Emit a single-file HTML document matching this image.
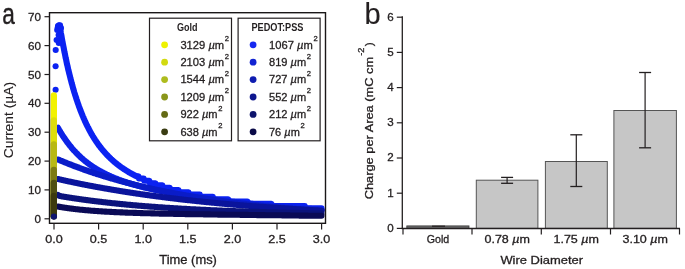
<!DOCTYPE html>
<html><head><meta charset="utf-8"><style>
html,body{margin:0;padding:0;background:#fff;width:685px;height:269px;overflow:hidden}
svg{display:block;filter:blur(0.35px)}
text{font-family:"Liberation Sans",sans-serif;stroke:#231f20;stroke-width:0.3px}
text.n{stroke:none}
</style></head><body>
<svg width="685" height="269" viewBox="0 0 685 269">
<text x="2.2" y="24" font-size="29.5" text-anchor="start" fill="#231f20" textLength="12.6" lengthAdjust="spacingAndGlyphs" style="stroke-width:0.4px">a</text>
<path d="M57.8,27.5 L58.8,25.3 L60.5,30.5 L60.9,33.0 L61.4,35.5 L61.8,38.0 L62.2,40.4 L62.7,42.7 L63.1,45.0 L63.6,47.3 L64.0,49.6 L64.4,51.7 L64.9,53.9 L65.3,56.0 L65.7,58.1 L66.2,60.1 L66.6,62.1 L67.0,64.1 L67.5,66.0 L67.9,67.9 L68.3,69.8 L68.8,71.6 L69.2,73.4 L69.7,75.2 L70.1,76.9 L70.5,78.6 L71.0,80.3 L71.4,81.9 L71.8,83.5 L72.3,85.1 L72.7,86.7 L73.1,88.2 L73.6,89.7 L74.0,91.2 L74.4,92.6 L74.9,94.1 L75.3,95.5 L75.8,96.8 L76.2,98.2 L76.6,99.5 L77.1,100.8 L77.5,102.1 L77.9,103.4 L78.4,104.6 L78.8,105.9 L79.2,107.1 L79.7,108.2 L80.1,109.4 L80.5,110.5 L81.0,111.7 L81.4,112.8 L81.9,113.9 L82.3,114.9 L82.7,116.0 L83.2,117.0 L83.6,118.0 L84.0,119.0 L84.5,120.0 L84.9,121.0 L85.3,121.9 L85.8,122.9 L86.2,123.8 L86.6,124.7 L87.1,125.6 L87.5,126.5 L88.0,127.3 L88.4,128.2 L88.8,129.0 L89.3,129.9 L89.7,130.7 L90.1,131.5 L90.6,132.3 L91.0,133.0 L91.4,133.8 L91.9,134.6 L92.3,135.3 L92.7,136.0 L93.2,136.7 L93.6,137.5 L94.1,138.2 L94.5,138.8 L94.9,139.5 L95.4,140.2 L95.8,140.8 L96.2,141.5 L96.7,142.1 L97.1,142.8 L97.5,143.4 L98.0,144.0 L98.4,144.6 L98.8,145.2 L99.3,145.8 L99.7,146.4 L100.2,146.9 L100.6,147.5 L101.0,148.0 L101.5,148.6 L101.9,149.1 L102.3,149.6 L102.8,150.2 L103.2,150.7 L103.6,151.2 L104.1,151.7 L104.5,152.2 L104.9,152.7 L105.4,153.2 L105.8,153.6 L106.3,154.1 L106.7,154.6 L107.1,155.0 L107.6,155.5 L108.0,155.9 L108.4,156.4 L108.9,156.8 L109.3,157.2 L109.7,157.7 L110.2,158.1 L110.6,158.5 L111.0,158.9 L111.5,159.3 L111.9,159.7 L112.4,160.1 L112.8,160.5 L113.2,160.9 L113.7,161.3 L114.1,161.6 L114.5,162.0 L115.0,162.4 L115.4,162.7 L115.8,163.1 L116.3,163.4 L116.7,163.8 L117.1,164.1 L117.6,164.5 L118.0,164.8 L118.5,165.1 L118.9,165.5 L119.3,165.8 L119.8,166.1 L120.2,166.4 L120.6,166.8 L121.1,167.1 L121.5,167.4 L121.9,167.7 L122.4,168.0 L122.8,168.3 L123.2,168.6 L123.7,168.9 L124.1,169.2 L124.6,169.4 L125.0,169.7 L125.4,170.0 L125.9,170.3 L126.3,170.6 L126.7,170.8 L127.2,171.1 L127.6,171.4 L128.0,171.6 L128.5,171.9 L128.9,172.2 L129.3,172.4 L129.8,172.7 L130.2,172.9 L130.7,173.2 L131.1,173.4 L131.5,173.7 L132.0,173.9 L132.4,174.1 L132.8,174.4 L133.3,174.6 L133.7,174.8 L134.1,175.1 L134.6,175.3 L135.0,175.5 L135.4,175.7 L135.9,176.0 L136.3,176.2 L136.8,176.4 L137.2,176.6 L137.6,176.8 L138.1,176.2 L138.5,176.2 L138.9,178.5 L143.7,178.5 L144.2,180.8 L149.4,180.8 L149.8,183.2 L155.5,183.2 L155.9,185.4 L162.5,185.4 L162.9,187.8 L169.9,187.8 L170.3,190.0 L178.6,190.0 L179.0,192.3 L188.6,192.3 L189.0,194.6 L199.9,194.6 L200.4,196.9 L213.0,196.9 L213.4,199.2 L228.3,199.2 L228.7,201.5 L247.4,201.5 L247.9,203.8 L271.4,203.8 L271.8,206.1 L304.9,206.1 L305.4,208.4 L321.5,208.4" fill="none" stroke="#0b22f2" stroke-width="6.1" stroke-linecap="round" stroke-linejoin="round"/>
<circle cx="55.6" cy="89.7" r="3.05" fill="#0b22f2"/>
<circle cx="55.6" cy="66.3" r="3.05" fill="#0b22f2"/>
<circle cx="55.7" cy="50.0" r="3.05" fill="#0b22f2"/>
<circle cx="56.6" cy="40.0" r="3.05" fill="#0b22f2"/>
<circle cx="57.2" cy="30.0" r="3.05" fill="#0b22f2"/>
<circle cx="58.6" cy="35.0" r="3.05" fill="#0b22f2"/>
<circle cx="58.8" cy="43.0" r="3.05" fill="#0b22f2"/>
<circle cx="58.0" cy="26.0" r="3.05" fill="#0b22f2"/>
<circle cx="60.0" cy="25.4" r="3.05" fill="#0b22f2"/>
<circle cx="61.0" cy="28.0" r="3.05" fill="#0b22f2"/>
<path d="M58.0,127.8 L58.4,128.6 L58.9,129.4 L59.3,130.1 L59.8,130.9 L60.2,131.6 L60.6,132.3 L61.1,133.1 L61.5,133.8 L62.0,134.5 L62.4,135.2 L62.8,135.9 L63.3,136.5 L63.7,137.2 L64.2,137.8 L64.6,138.5 L65.0,139.1 L65.5,139.8 L65.9,140.4 L66.4,141.0 L66.8,141.6 L67.2,142.2 L67.7,142.8 L68.1,143.4 L68.6,143.9 L69.0,144.5 L69.4,145.1 L69.9,145.6 L70.3,146.2 L70.8,146.7 L71.2,147.2 L71.6,147.8 L72.1,148.3 L72.5,148.8 L73.0,149.3 L73.4,149.8 L73.8,150.3 L74.3,150.8 L74.7,151.2 L75.2,151.7 L75.6,152.2 L76.0,152.6 L76.5,153.1 L76.9,153.5 L77.4,154.0 L77.8,154.4 L78.2,154.9 L78.7,155.3 L79.1,155.7 L79.6,156.1 L80.0,156.6 L80.4,157.0 L80.9,157.4 L81.3,157.8 L81.8,158.2 L82.2,158.5 L82.6,158.9 L83.1,159.3 L83.5,159.7 L84.0,160.1 L84.4,160.4 L84.8,160.8 L85.3,161.1 L85.7,161.5 L86.2,161.8 L86.6,162.2 L87.0,162.5 L87.5,162.9 L87.9,163.2 L88.4,163.5 L88.8,163.9 L89.2,164.2 L89.7,164.5 L90.1,164.8 L90.6,165.1 L91.0,165.4 L91.4,165.7 L91.9,166.0 L92.3,166.3 L92.8,166.6 L93.2,166.9 L93.6,167.2 L94.1,167.5 L94.5,167.8 L95.0,168.1 L95.4,168.3 L95.8,168.6 L96.3,168.9 L96.7,169.2 L97.2,169.4 L97.6,169.7 L98.0,169.9 L98.5,170.2 L98.9,170.4 L99.4,170.7 L99.8,170.9 L100.2,171.2 L100.7,171.4 L101.1,171.7 L101.6,171.9 L102.0,172.1 L102.4,172.4 L102.9,172.6 L103.3,172.8 L103.7,173.1 L104.2,173.3 L104.6,173.5 L105.1,173.7 L105.5,174.0 L105.9,174.2 L106.4,174.4 L106.8,174.6 L107.3,174.8 L107.7,175.0 L108.1,175.2 L108.6,175.4 L109.0,175.6 L109.5,175.8 L109.9,176.0 L110.3,176.2 L110.8,176.4 L111.2,176.6 L111.7,176.8 L112.1,177.0 L112.5,177.2 L113.0,177.4 L113.4,177.5 L113.9,177.7 L114.3,177.9 L114.7,178.1 L115.2,178.3 L115.6,178.4 L116.1,178.6 L116.5,178.8 L116.9,179.0 L117.4,179.1 L117.8,179.3 L118.3,179.5 L118.7,179.6 L119.1,179.8 L119.6,180.0 L120.0,180.1 L120.5,180.3 L120.9,180.4 L121.3,180.6 L121.8,180.7 L122.2,180.9 L122.7,181.1 L123.1,181.2 L123.5,181.4 L124.0,181.5 L124.4,181.7 L124.9,181.8 L125.3,182.0 L125.7,182.1 L126.2,182.2 L126.6,182.4 L127.1,182.5 L127.5,182.7 L127.9,182.8 L128.4,182.9 L128.8,183.1 L129.3,183.2 L129.7,183.4 L130.1,183.5 L130.6,183.6 L131.0,183.8 L131.5,183.9 L131.9,184.0 L132.3,184.2 L132.8,184.3 L133.2,184.4 L133.7,184.5 L134.1,184.7 L134.5,184.8 L135.0,184.9 L135.4,185.0 L135.9,185.2 L136.3,185.3 L136.7,185.4 L137.2,185.5 L137.6,185.6 L138.1,185.8 L138.5,185.9 L138.9,186.0 L139.4,186.1 L139.8,186.2 L140.3,186.3 L140.7,186.5 L141.1,186.6 L141.6,186.7 L142.0,186.8 L142.5,186.9 L142.9,187.0 L143.3,187.1 L143.8,187.2 L144.2,187.4 L144.7,187.5 L145.1,187.6 L145.5,187.7 L146.0,187.8 L146.4,187.9 L146.9,188.0 L147.3,188.1 L147.7,188.2 L148.2,188.3 L148.6,188.4 L149.1,188.5 L149.5,188.6 L149.9,188.7 L150.4,188.8 L150.8,188.9 L151.3,189.0 L151.7,189.1 L152.1,189.2 L152.6,189.3 L153.0,189.4 L153.5,189.5 L153.9,189.6 L154.3,189.7 L154.8,189.8 L155.2,189.9 L155.7,190.0 L156.1,190.1 L156.5,190.2 L157.0,190.3 L157.4,190.3 L157.9,190.4 L158.3,190.5 L158.7,190.6 L159.2,190.7 L159.6,190.8 L160.1,190.9 L160.5,191.0 L160.9,191.1 L161.4,191.2 L161.8,191.2 L162.3,191.3 L162.7,191.4 L163.1,191.5 L163.6,191.6 L164.0,191.7 L164.5,191.8 L164.9,191.8 L165.3,191.9 L165.8,192.0 L166.2,192.1 L166.7,192.2 L167.1,192.3 L167.5,192.3 L168.0,192.4 L168.4,192.5 L168.9,192.6 L169.3,192.7 L169.7,192.7 L170.2,192.8 L170.6,192.9 L171.1,193.0 L171.5,193.1 L171.9,193.1 L172.4,193.2 L172.8,193.3 L173.3,193.4 L173.7,193.5 L174.1,193.5 L174.6,193.6 L175.0,193.7 L175.5,193.8 L175.9,193.8 L176.3,193.9 L176.8,194.0 L177.2,194.1 L177.7,194.1 L178.1,194.2 L178.5,194.3 L179.0,194.4 L179.4,194.4 L179.9,194.5 L180.3,194.6 L180.7,194.7 L181.2,194.7 L181.6,194.8 L182.1,194.9 L182.5,195.0 L182.9,195.0 L183.4,195.1 L183.8,195.2 L184.3,195.2 L184.7,195.3 L185.1,195.4 L185.6,195.4 L186.0,195.5 L186.5,195.6 L186.9,195.7 L187.3,195.7 L187.8,195.8 L188.2,195.9 L188.7,195.9 L189.1,196.0 L189.5,196.1 L190.0,196.1 L190.4,196.2 L190.8,196.3 L191.3,196.3 L191.7,196.4 L192.2,196.5 L192.6,196.5 L193.0,196.6 L193.5,196.7 L193.9,196.7 L194.4,196.8 L194.8,196.9 L195.2,196.9 L195.7,197.0 L196.1,197.0 L196.6,197.1 L197.0,197.2 L197.4,197.2 L197.9,197.3 L198.3,197.4 L198.8,197.4 L199.2,197.5 L199.6,197.6 L200.1,197.6 L200.5,197.7 L201.0,197.7 L201.4,197.8 L201.8,197.9 L202.3,197.9 L202.7,198.0 L203.2,198.0 L203.6,198.1 L204.0,198.2 L204.5,198.2 L204.9,198.3 L205.4,198.4 L205.8,198.4 L206.2,198.5 L206.7,198.5 L207.1,198.6 L207.6,198.6 L208.0,198.7 L208.4,198.8 L208.9,198.8 L209.3,198.9 L209.8,198.9 L210.2,199.0 L210.6,199.1 L211.1,199.1 L211.5,199.2 L212.0,199.2 L212.4,199.3 L212.8,199.3 L213.3,199.4 L213.7,199.5 L214.2,199.5 L214.6,199.6 L215.0,199.6 L215.5,199.7 L215.9,199.7 L216.4,199.8 L216.8,199.9 L217.2,199.9 L217.7,200.0 L218.1,200.0 L218.6,200.1 L219.0,200.1 L219.4,200.2 L219.9,200.2 L220.3,200.3 L220.8,200.3 L221.2,200.4 L221.6,200.5 L222.1,200.5 L222.5,200.6 L223.0,200.6 L223.4,200.7 L223.8,200.7 L224.3,200.8 L224.7,200.8 L225.2,200.9 L225.6,200.9 L226.0,201.0 L226.5,201.0 L226.9,201.1 L227.4,201.1 L227.8,201.2 L228.2,201.2 L228.7,201.3 L229.1,201.3 L229.6,201.4 L230.0,201.4 L230.4,201.5 L230.9,201.5 L231.3,201.6 L231.8,201.6 L232.2,201.7 L232.6,201.7 L233.1,201.8 L233.5,201.8 L234.0,201.9 L234.4,201.9 L234.8,202.0 L235.3,202.0 L235.7,202.1 L236.2,202.1 L236.6,202.2 L237.0,202.2 L237.5,202.3 L237.9,202.3 L238.4,202.4 L238.8,202.4 L239.2,202.5 L239.7,202.5 L240.1,202.6 L240.6,202.6 L241.0,202.7 L241.4,202.7 L241.9,202.8 L242.3,202.8 L242.8,202.9 L243.2,202.9 L243.6,203.0 L244.1,203.0 L244.5,203.1 L245.0,203.1 L245.4,203.1 L245.8,203.2 L246.3,203.2 L246.7,203.3 L247.2,203.3 L247.6,203.4 L248.0,203.4 L248.5,203.5 L248.9,203.5 L249.4,203.6 L249.8,203.6 L250.2,203.6 L250.7,203.7 L251.1,203.7 L251.6,203.8 L252.0,203.8 L252.4,203.9 L252.9,203.9 L253.3,204.0 L253.8,204.0 L254.2,204.1 L254.6,204.1 L255.1,204.1 L255.5,204.2 L256.0,204.2 L256.4,204.3 L256.8,204.3 L257.3,204.4 L257.7,204.4 L258.2,204.4 L258.6,204.5 L259.0,204.5 L259.5,204.6 L259.9,204.6 L260.4,204.7 L260.8,204.7 L261.2,204.7 L261.7,204.8 L262.1,204.8 L262.6,204.9 L263.0,204.9 L263.4,205.0 L263.9,205.0 L264.3,205.0 L264.8,205.1 L265.2,205.1 L265.6,205.2 L266.1,205.2 L266.5,205.2 L267.0,205.3 L267.4,205.3 L267.8,205.4 L268.3,205.4 L268.7,205.4 L269.2,205.5 L269.6,205.5 L270.0,205.6 L270.5,205.6 L270.9,205.6 L271.4,205.7 L271.8,205.7 L272.2,205.8 L272.7,205.8 L273.1,205.8 L273.6,205.9 L274.0,205.9 L274.4,206.0 L274.9,206.0 L275.3,206.0 L275.8,206.1 L276.2,206.1 L276.6,206.2 L277.1,206.2 L277.5,206.2 L277.9,206.3 L278.4,206.3 L278.8,206.4 L279.3,206.4 L279.7,206.4 L280.1,206.5 L280.6,206.5 L281.0,206.5 L281.5,206.6 L281.9,206.6 L282.3,206.7 L282.8,206.7 L283.2,206.7 L283.7,206.8 L284.1,206.8 L284.5,206.8 L285.0,206.9 L285.4,206.9 L285.9,207.0 L286.3,207.0 L286.7,207.0 L287.2,207.1 L287.6,207.1 L288.1,207.1 L288.5,207.2 L288.9,207.2 L289.4,207.2 L289.8,207.3 L290.3,207.3 L290.7,207.4 L291.1,207.4 L291.6,207.4 L292.0,207.5 L292.5,207.5 L292.9,207.5 L293.3,207.6 L293.8,207.6 L294.2,207.6 L294.7,207.7 L295.1,207.7 L295.5,207.7 L296.0,207.8 L296.4,207.8 L296.9,207.8 L297.3,207.9 L297.7,207.9 L298.2,208.0 L298.6,208.0 L299.1,208.0 L299.5,208.1 L299.9,208.1 L300.4,208.1 L300.8,208.2 L301.3,208.2 L301.7,208.2 L302.1,208.3 L302.6,208.3 L303.0,208.3 L303.5,208.4 L303.9,208.4 L304.3,208.4 L304.8,208.5 L305.2,208.5 L305.7,208.5 L306.1,208.6 L306.5,208.6 L307.0,208.6 L307.4,208.7 L307.9,208.7 L308.3,208.7 L308.7,208.8 L309.2,208.8 L309.6,208.8 L310.1,208.9 L310.5,208.9 L310.9,208.9 L311.4,208.9 L311.8,209.0 L312.3,209.0 L312.7,209.0 L313.1,209.1 L313.6,209.1 L314.0,209.1 L314.5,209.2 L314.9,209.2 L315.3,209.2 L315.8,209.3 L316.2,209.3 L316.7,209.3 L317.1,209.4 L317.5,209.4 L318.0,209.4 L318.4,209.4 L318.9,209.5 L319.3,209.5 L319.7,209.5 L320.2,209.6 L320.6,209.6 L321.1,209.6 L321.5,209.7" fill="none" stroke="#0c22e6" stroke-width="6.1" stroke-linecap="round" stroke-linejoin="round"/>
<path d="M58.0,159.5 L58.4,159.6 L58.9,159.8 L59.3,160.0 L59.8,160.2 L60.2,160.4 L60.6,160.6 L61.1,160.8 L61.5,160.9 L62.0,161.1 L62.4,161.3 L62.8,161.5 L63.3,161.7 L63.7,161.8 L64.2,162.0 L64.6,162.2 L65.0,162.4 L65.5,162.6 L65.9,162.7 L66.4,162.9 L66.8,163.1 L67.2,163.3 L67.7,163.4 L68.1,163.6 L68.6,163.8 L69.0,164.0 L69.4,164.1 L69.9,164.3 L70.3,164.5 L70.8,164.6 L71.2,164.8 L71.6,165.0 L72.1,165.2 L72.5,165.3 L73.0,165.5 L73.4,165.7 L73.8,165.8 L74.3,166.0 L74.7,166.2 L75.2,166.3 L75.6,166.5 L76.0,166.7 L76.5,166.8 L76.9,167.0 L77.4,167.2 L77.8,167.3 L78.2,167.5 L78.7,167.6 L79.1,167.8 L79.6,168.0 L80.0,168.1 L80.4,168.3 L80.9,168.4 L81.3,168.6 L81.8,168.8 L82.2,168.9 L82.6,169.1 L83.1,169.2 L83.5,169.4 L84.0,169.5 L84.4,169.7 L84.8,169.9 L85.3,170.0 L85.7,170.2 L86.2,170.3 L86.6,170.5 L87.0,170.6 L87.5,170.8 L87.9,170.9 L88.4,171.1 L88.8,171.2 L89.2,171.4 L89.7,171.5 L90.1,171.7 L90.6,171.8 L91.0,172.0 L91.4,172.1 L91.9,172.3 L92.3,172.4 L92.8,172.6 L93.2,172.7 L93.6,172.9 L94.1,173.0 L94.5,173.2 L95.0,173.3 L95.4,173.4 L95.8,173.6 L96.3,173.7 L96.7,173.9 L97.2,174.0 L97.6,174.2 L98.0,174.3 L98.5,174.4 L98.9,174.6 L99.4,174.7 L99.8,174.9 L100.2,175.0 L100.7,175.1 L101.1,175.3 L101.6,175.4 L102.0,175.6 L102.4,175.7 L102.9,175.8 L103.3,176.0 L103.7,176.1 L104.2,176.2 L104.6,176.4 L105.1,176.5 L105.5,176.6 L105.9,176.8 L106.4,176.9 L106.8,177.0 L107.3,177.2 L107.7,177.3 L108.1,177.4 L108.6,177.6 L109.0,177.7 L109.5,177.8 L109.9,178.0 L110.3,178.1 L110.8,178.2 L111.2,178.4 L111.7,178.5 L112.1,178.6 L112.5,178.7 L113.0,178.9 L113.4,179.0 L113.9,179.1 L114.3,179.3 L114.7,179.4 L115.2,179.5 L115.6,179.6 L116.1,179.8 L116.5,179.9 L116.9,180.0 L117.4,180.1 L117.8,180.3 L118.3,180.4 L118.7,180.5 L119.1,180.6 L119.6,180.7 L120.0,180.9 L120.5,181.0 L120.9,181.1 L121.3,181.2 L121.8,181.3 L122.2,181.5 L122.7,181.6 L123.1,181.7 L123.5,181.8 L124.0,181.9 L124.4,182.1 L124.9,182.2 L125.3,182.3 L125.7,182.4 L126.2,182.5 L126.6,182.6 L127.1,182.8 L127.5,182.9 L127.9,183.0 L128.4,183.1 L128.8,183.2 L129.3,183.3 L129.7,183.4 L130.1,183.6 L130.6,183.7 L131.0,183.8 L131.5,183.9 L131.9,184.0 L132.3,184.1 L132.8,184.2 L133.2,184.3 L133.7,184.5 L134.1,184.6 L134.5,184.7 L135.0,184.8 L135.4,184.9 L135.9,185.0 L136.3,185.1 L136.7,185.2 L137.2,185.3 L137.6,185.4 L138.1,185.5 L138.5,185.7 L138.9,185.8 L139.4,185.9 L139.8,186.0 L140.3,186.1 L140.7,186.2 L141.1,186.3 L141.6,186.4 L142.0,186.5 L142.5,186.6 L142.9,186.7 L143.3,186.8 L143.8,186.9 L144.2,187.0 L144.7,187.1 L145.1,187.2 L145.5,187.3 L146.0,187.4 L146.4,187.5 L146.9,187.6 L147.3,187.7 L147.7,187.8 L148.2,187.9 L148.6,188.0 L149.1,188.1 L149.5,188.2 L149.9,188.3 L150.4,188.4 L150.8,188.5 L151.3,188.6 L151.7,188.7 L152.1,188.8 L152.6,188.9 L153.0,189.0 L153.5,189.1 L153.9,189.2 L154.3,189.3 L154.8,189.4 L155.2,189.5 L155.7,189.6 L156.1,189.7 L156.5,189.8 L157.0,189.9 L157.4,190.0 L157.9,190.1 L158.3,190.1 L158.7,190.2 L159.2,190.3 L159.6,190.4 L160.1,190.5 L160.5,190.6 L160.9,190.7 L161.4,190.8 L161.8,190.9 L162.3,191.0 L162.7,191.1 L163.1,191.2 L163.6,191.2 L164.0,191.3 L164.5,191.4 L164.9,191.5 L165.3,191.6 L165.8,191.7 L166.2,191.8 L166.7,191.9 L167.1,192.0 L167.5,192.0 L168.0,192.1 L168.4,192.2 L168.9,192.3 L169.3,192.4 L169.7,192.5 L170.2,192.6 L170.6,192.6 L171.1,192.7 L171.5,192.8 L171.9,192.9 L172.4,193.0 L172.8,193.1 L173.3,193.2 L173.7,193.2 L174.1,193.3 L174.6,193.4 L175.0,193.5 L175.5,193.6 L175.9,193.7 L176.3,193.7 L176.8,193.8 L177.2,193.9 L177.7,194.0 L178.1,194.1 L178.5,194.1 L179.0,194.2 L179.4,194.3 L179.9,194.4 L180.3,194.5 L180.7,194.5 L181.2,194.6 L181.6,194.7 L182.1,194.8 L182.5,194.9 L182.9,194.9 L183.4,195.0 L183.8,195.1 L184.3,195.2 L184.7,195.3 L185.1,195.3 L185.6,195.4 L186.0,195.5 L186.5,195.6 L186.9,195.6 L187.3,195.7 L187.8,195.8 L188.2,195.9 L188.7,195.9 L189.1,196.0 L189.5,196.1 L190.0,196.2 L190.4,196.2 L190.8,196.3 L191.3,196.4 L191.7,196.5 L192.2,196.5 L192.6,196.6 L193.0,196.7 L193.5,196.8 L193.9,196.8 L194.4,196.9 L194.8,197.0 L195.2,197.1 L195.7,197.1 L196.1,197.2 L196.6,197.3 L197.0,197.3 L197.4,197.4 L197.9,197.5 L198.3,197.6 L198.8,197.6 L199.2,197.7 L199.6,197.8 L200.1,197.8 L200.5,197.9 L201.0,198.0 L201.4,198.0 L201.8,198.1 L202.3,198.2 L202.7,198.2 L203.2,198.3 L203.6,198.4 L204.0,198.5 L204.5,198.5 L204.9,198.6 L205.4,198.7 L205.8,198.7 L206.2,198.8 L206.7,198.9 L207.1,198.9 L207.6,199.0 L208.0,199.1 L208.4,199.1 L208.9,199.2 L209.3,199.3 L209.8,199.3 L210.2,199.4 L210.6,199.4 L211.1,199.5 L211.5,199.6 L212.0,199.6 L212.4,199.7 L212.8,199.8 L213.3,199.8 L213.7,199.9 L214.2,200.0 L214.6,200.0 L215.0,200.1 L215.5,200.1 L215.9,200.2 L216.4,200.3 L216.8,200.3 L217.2,200.4 L217.7,200.5 L218.1,200.5 L218.6,200.6 L219.0,200.6 L219.4,200.7 L219.9,200.8 L220.3,200.8 L220.8,200.9 L221.2,200.9 L221.6,201.0 L222.1,201.1 L222.5,201.1 L223.0,201.2 L223.4,201.2 L223.8,201.3 L224.3,201.4 L224.7,201.4 L225.2,201.5 L225.6,201.5 L226.0,201.6 L226.5,201.7 L226.9,201.7 L227.4,201.8 L227.8,201.8 L228.2,201.9 L228.7,201.9 L229.1,202.0 L229.6,202.1 L230.0,202.1 L230.4,202.2 L230.9,202.2 L231.3,202.3 L231.8,202.3 L232.2,202.4 L232.6,202.5 L233.1,202.5 L233.5,202.6 L234.0,202.6 L234.4,202.7 L234.8,202.7 L235.3,202.8 L235.7,202.8 L236.2,202.9 L236.6,202.9 L237.0,203.0 L237.5,203.1 L237.9,203.1 L238.4,203.2 L238.8,203.2 L239.2,203.3 L239.7,203.3 L240.1,203.4 L240.6,203.4 L241.0,203.5 L241.4,203.5 L241.9,203.6 L242.3,203.6 L242.8,203.7 L243.2,203.7 L243.6,203.8 L244.1,203.8 L244.5,203.9 L245.0,203.9 L245.4,204.0 L245.8,204.0 L246.3,204.1 L246.7,204.2 L247.2,204.2 L247.6,204.3 L248.0,204.3 L248.5,204.4 L248.9,204.4 L249.4,204.5 L249.8,204.5 L250.2,204.6 L250.7,204.6 L251.1,204.6 L251.6,204.7 L252.0,204.7 L252.4,204.8 L252.9,204.8 L253.3,204.9 L253.8,204.9 L254.2,205.0 L254.6,205.0 L255.1,205.1 L255.5,205.1 L256.0,205.2 L256.4,205.2 L256.8,205.3 L257.3,205.3 L257.7,205.4 L258.2,205.4 L258.6,205.5 L259.0,205.5 L259.5,205.6 L259.9,205.6 L260.4,205.6 L260.8,205.7 L261.2,205.7 L261.7,205.8 L262.1,205.8 L262.6,205.9 L263.0,205.9 L263.4,206.0 L263.9,206.0 L264.3,206.1 L264.8,206.1 L265.2,206.1 L265.6,206.2 L266.1,206.2 L266.5,206.3 L267.0,206.3 L267.4,206.4 L267.8,206.4 L268.3,206.4 L268.7,206.5 L269.2,206.5 L269.6,206.6 L270.0,206.6 L270.5,206.7 L270.9,206.7 L271.4,206.8 L271.8,206.8 L272.2,206.8 L272.7,206.9 L273.1,206.9 L273.6,207.0 L274.0,207.0 L274.4,207.0 L274.9,207.1 L275.3,207.1 L275.8,207.2 L276.2,207.2 L276.6,207.3 L277.1,207.3 L277.5,207.3 L277.9,207.4 L278.4,207.4 L278.8,207.5 L279.3,207.5 L279.7,207.5 L280.1,207.6 L280.6,207.6 L281.0,207.7 L281.5,207.7 L281.9,207.7 L282.3,207.8 L282.8,207.8 L283.2,207.9 L283.7,207.9 L284.1,207.9 L284.5,208.0 L285.0,208.0 L285.4,208.0 L285.9,208.1 L286.3,208.1 L286.7,208.2 L287.2,208.2 L287.6,208.2 L288.1,208.3 L288.5,208.3 L288.9,208.4 L289.4,208.4 L289.8,208.4 L290.3,208.5 L290.7,208.5 L291.1,208.5 L291.6,208.6 L292.0,208.6 L292.5,208.7 L292.9,208.7 L293.3,208.7 L293.8,208.8 L294.2,208.8 L294.7,208.8 L295.1,208.9 L295.5,208.9 L296.0,208.9 L296.4,209.0 L296.9,209.0 L297.3,209.0 L297.7,209.1 L298.2,209.1 L298.6,209.2 L299.1,209.2 L299.5,209.2 L299.9,209.3 L300.4,209.3 L300.8,209.3 L301.3,209.4 L301.7,209.4 L302.1,209.4 L302.6,209.5 L303.0,209.5 L303.5,209.5 L303.9,209.6 L304.3,209.6 L304.8,209.6 L305.2,209.7 L305.7,209.7 L306.1,209.7 L306.5,209.8 L307.0,209.8 L307.4,209.8 L307.9,209.9 L308.3,209.9 L308.7,209.9 L309.2,210.0 L309.6,210.0 L310.1,210.0 L310.5,210.1 L310.9,210.1 L311.4,210.1 L311.8,210.2 L312.3,210.2 L312.7,210.2 L313.1,210.3 L313.6,210.3 L314.0,210.3 L314.5,210.4 L314.9,210.4 L315.3,210.4 L315.8,210.5 L316.2,210.5 L316.7,210.5 L317.1,210.5 L317.5,210.6 L318.0,210.6 L318.4,210.6 L318.9,210.7 L319.3,210.7 L319.7,210.7 L320.2,210.8 L320.6,210.8 L321.1,210.8 L321.5,210.8" fill="none" stroke="#0a1cc8" stroke-width="6.1" stroke-linecap="round" stroke-linejoin="round"/>
<path d="M58.0,179.0 L58.4,179.1 L58.9,179.2 L59.3,179.3 L59.8,179.4 L60.2,179.5 L60.6,179.6 L61.1,179.7 L61.5,179.8 L62.0,179.9 L62.4,180.0 L62.8,180.1 L63.3,180.2 L63.7,180.3 L64.2,180.4 L64.6,180.5 L65.0,180.6 L65.5,180.7 L65.9,180.8 L66.4,180.9 L66.8,181.0 L67.2,181.1 L67.7,181.2 L68.1,181.3 L68.6,181.4 L69.0,181.5 L69.4,181.5 L69.9,181.6 L70.3,181.7 L70.8,181.8 L71.2,181.9 L71.6,182.0 L72.1,182.1 L72.5,182.2 L73.0,182.3 L73.4,182.4 L73.8,182.5 L74.3,182.6 L74.7,182.7 L75.2,182.7 L75.6,182.8 L76.0,182.9 L76.5,183.0 L76.9,183.1 L77.4,183.2 L77.8,183.3 L78.2,183.4 L78.7,183.5 L79.1,183.6 L79.6,183.6 L80.0,183.7 L80.4,183.8 L80.9,183.9 L81.3,184.0 L81.8,184.1 L82.2,184.2 L82.6,184.3 L83.1,184.4 L83.5,184.4 L84.0,184.5 L84.4,184.6 L84.8,184.7 L85.3,184.8 L85.7,184.9 L86.2,185.0 L86.6,185.0 L87.0,185.1 L87.5,185.2 L87.9,185.3 L88.4,185.4 L88.8,185.5 L89.2,185.6 L89.7,185.6 L90.1,185.7 L90.6,185.8 L91.0,185.9 L91.4,186.0 L91.9,186.1 L92.3,186.1 L92.8,186.2 L93.2,186.3 L93.6,186.4 L94.1,186.5 L94.5,186.5 L95.0,186.6 L95.4,186.7 L95.8,186.8 L96.3,186.9 L96.7,187.0 L97.2,187.0 L97.6,187.1 L98.0,187.2 L98.5,187.3 L98.9,187.4 L99.4,187.4 L99.8,187.5 L100.2,187.6 L100.7,187.7 L101.1,187.8 L101.6,187.8 L102.0,187.9 L102.4,188.0 L102.9,188.1 L103.3,188.1 L103.7,188.2 L104.2,188.3 L104.6,188.4 L105.1,188.5 L105.5,188.5 L105.9,188.6 L106.4,188.7 L106.8,188.8 L107.3,188.8 L107.7,188.9 L108.1,189.0 L108.6,189.1 L109.0,189.1 L109.5,189.2 L109.9,189.3 L110.3,189.4 L110.8,189.4 L111.2,189.5 L111.7,189.6 L112.1,189.7 L112.5,189.7 L113.0,189.8 L113.4,189.9 L113.9,190.0 L114.3,190.0 L114.7,190.1 L115.2,190.2 L115.6,190.3 L116.1,190.3 L116.5,190.4 L116.9,190.5 L117.4,190.5 L117.8,190.6 L118.3,190.7 L118.7,190.8 L119.1,190.8 L119.6,190.9 L120.0,191.0 L120.5,191.0 L120.9,191.1 L121.3,191.2 L121.8,191.3 L122.2,191.3 L122.7,191.4 L123.1,191.5 L123.5,191.5 L124.0,191.6 L124.4,191.7 L124.9,191.7 L125.3,191.8 L125.7,191.9 L126.2,192.0 L126.6,192.0 L127.1,192.1 L127.5,192.2 L127.9,192.2 L128.4,192.3 L128.8,192.4 L129.3,192.4 L129.7,192.5 L130.1,192.6 L130.6,192.6 L131.0,192.7 L131.5,192.8 L131.9,192.8 L132.3,192.9 L132.8,193.0 L133.2,193.0 L133.7,193.1 L134.1,193.2 L134.5,193.2 L135.0,193.3 L135.4,193.4 L135.9,193.4 L136.3,193.5 L136.7,193.6 L137.2,193.6 L137.6,193.7 L138.1,193.7 L138.5,193.8 L138.9,193.9 L139.4,193.9 L139.8,194.0 L140.3,194.1 L140.7,194.1 L141.1,194.2 L141.6,194.3 L142.0,194.3 L142.5,194.4 L142.9,194.4 L143.3,194.5 L143.8,194.6 L144.2,194.6 L144.7,194.7 L145.1,194.8 L145.5,194.8 L146.0,194.9 L146.4,194.9 L146.9,195.0 L147.3,195.1 L147.7,195.1 L148.2,195.2 L148.6,195.2 L149.1,195.3 L149.5,195.4 L149.9,195.4 L150.4,195.5 L150.8,195.6 L151.3,195.6 L151.7,195.7 L152.1,195.7 L152.6,195.8 L153.0,195.8 L153.5,195.9 L153.9,196.0 L154.3,196.0 L154.8,196.1 L155.2,196.1 L155.7,196.2 L156.1,196.3 L156.5,196.3 L157.0,196.4 L157.4,196.4 L157.9,196.5 L158.3,196.5 L158.7,196.6 L159.2,196.7 L159.6,196.7 L160.1,196.8 L160.5,196.8 L160.9,196.9 L161.4,196.9 L161.8,197.0 L162.3,197.1 L162.7,197.1 L163.1,197.2 L163.6,197.2 L164.0,197.3 L164.5,197.3 L164.9,197.4 L165.3,197.5 L165.8,197.5 L166.2,197.6 L166.7,197.6 L167.1,197.7 L167.5,197.7 L168.0,197.8 L168.4,197.8 L168.9,197.9 L169.3,197.9 L169.7,198.0 L170.2,198.1 L170.6,198.1 L171.1,198.2 L171.5,198.2 L171.9,198.3 L172.4,198.3 L172.8,198.4 L173.3,198.4 L173.7,198.5 L174.1,198.5 L174.6,198.6 L175.0,198.6 L175.5,198.7 L175.9,198.7 L176.3,198.8 L176.8,198.8 L177.2,198.9 L177.7,199.0 L178.1,199.0 L178.5,199.1 L179.0,199.1 L179.4,199.2 L179.9,199.2 L180.3,199.3 L180.7,199.3 L181.2,199.4 L181.6,199.4 L182.1,199.5 L182.5,199.5 L182.9,199.6 L183.4,199.6 L183.8,199.7 L184.3,199.7 L184.7,199.8 L185.1,199.8 L185.6,199.9 L186.0,199.9 L186.5,200.0 L186.9,200.0 L187.3,200.1 L187.8,200.1 L188.2,200.2 L188.7,200.2 L189.1,200.3 L189.5,200.3 L190.0,200.3 L190.4,200.4 L190.8,200.4 L191.3,200.5 L191.7,200.5 L192.2,200.6 L192.6,200.6 L193.0,200.7 L193.5,200.7 L193.9,200.8 L194.4,200.8 L194.8,200.9 L195.2,200.9 L195.7,201.0 L196.1,201.0 L196.6,201.1 L197.0,201.1 L197.4,201.2 L197.9,201.2 L198.3,201.2 L198.8,201.3 L199.2,201.3 L199.6,201.4 L200.1,201.4 L200.5,201.5 L201.0,201.5 L201.4,201.6 L201.8,201.6 L202.3,201.7 L202.7,201.7 L203.2,201.7 L203.6,201.8 L204.0,201.8 L204.5,201.9 L204.9,201.9 L205.4,202.0 L205.8,202.0 L206.2,202.1 L206.7,202.1 L207.1,202.1 L207.6,202.2 L208.0,202.2 L208.4,202.3 L208.9,202.3 L209.3,202.4 L209.8,202.4 L210.2,202.5 L210.6,202.5 L211.1,202.5 L211.5,202.6 L212.0,202.6 L212.4,202.7 L212.8,202.7 L213.3,202.8 L213.7,202.8 L214.2,202.8 L214.6,202.9 L215.0,202.9 L215.5,203.0 L215.9,203.0 L216.4,203.0 L216.8,203.1 L217.2,203.1 L217.7,203.2 L218.1,203.2 L218.6,203.3 L219.0,203.3 L219.4,203.3 L219.9,203.4 L220.3,203.4 L220.8,203.5 L221.2,203.5 L221.6,203.5 L222.1,203.6 L222.5,203.6 L223.0,203.7 L223.4,203.7 L223.8,203.7 L224.3,203.8 L224.7,203.8 L225.2,203.9 L225.6,203.9 L226.0,203.9 L226.5,204.0 L226.9,204.0 L227.4,204.1 L227.8,204.1 L228.2,204.1 L228.7,204.2 L229.1,204.2 L229.6,204.3 L230.0,204.3 L230.4,204.3 L230.9,204.4 L231.3,204.4 L231.8,204.4 L232.2,204.5 L232.6,204.5 L233.1,204.6 L233.5,204.6 L234.0,204.6 L234.4,204.7 L234.8,204.7 L235.3,204.8 L235.7,204.8 L236.2,204.8 L236.6,204.9 L237.0,204.9 L237.5,204.9 L237.9,205.0 L238.4,205.0 L238.8,205.0 L239.2,205.1 L239.7,205.1 L240.1,205.2 L240.6,205.2 L241.0,205.2 L241.4,205.3 L241.9,205.3 L242.3,205.3 L242.8,205.4 L243.2,205.4 L243.6,205.5 L244.1,205.5 L244.5,205.5 L245.0,205.6 L245.4,205.6 L245.8,205.6 L246.3,205.7 L246.7,205.7 L247.2,205.7 L247.6,205.8 L248.0,205.8 L248.5,205.8 L248.9,205.9 L249.4,205.9 L249.8,205.9 L250.2,206.0 L250.7,206.0 L251.1,206.0 L251.6,206.1 L252.0,206.1 L252.4,206.2 L252.9,206.2 L253.3,206.2 L253.8,206.3 L254.2,206.3 L254.6,206.3 L255.1,206.4 L255.5,206.4 L256.0,206.4 L256.4,206.5 L256.8,206.5 L257.3,206.5 L257.7,206.6 L258.2,206.6 L258.6,206.6 L259.0,206.7 L259.5,206.7 L259.9,206.7 L260.4,206.8 L260.8,206.8 L261.2,206.8 L261.7,206.9 L262.1,206.9 L262.6,206.9 L263.0,206.9 L263.4,207.0 L263.9,207.0 L264.3,207.0 L264.8,207.1 L265.2,207.1 L265.6,207.1 L266.1,207.2 L266.5,207.2 L267.0,207.2 L267.4,207.3 L267.8,207.3 L268.3,207.3 L268.7,207.4 L269.2,207.4 L269.6,207.4 L270.0,207.5 L270.5,207.5 L270.9,207.5 L271.4,207.5 L271.8,207.6 L272.2,207.6 L272.7,207.6 L273.1,207.7 L273.6,207.7 L274.0,207.7 L274.4,207.8 L274.9,207.8 L275.3,207.8 L275.8,207.9 L276.2,207.9 L276.6,207.9 L277.1,207.9 L277.5,208.0 L277.9,208.0 L278.4,208.0 L278.8,208.1 L279.3,208.1 L279.7,208.1 L280.1,208.1 L280.6,208.2 L281.0,208.2 L281.5,208.2 L281.9,208.3 L282.3,208.3 L282.8,208.3 L283.2,208.4 L283.7,208.4 L284.1,208.4 L284.5,208.4 L285.0,208.5 L285.4,208.5 L285.9,208.5 L286.3,208.6 L286.7,208.6 L287.2,208.6 L287.6,208.6 L288.1,208.7 L288.5,208.7 L288.9,208.7 L289.4,208.8 L289.8,208.8 L290.3,208.8 L290.7,208.8 L291.1,208.9 L291.6,208.9 L292.0,208.9 L292.5,208.9 L292.9,209.0 L293.3,209.0 L293.8,209.0 L294.2,209.1 L294.7,209.1 L295.1,209.1 L295.5,209.1 L296.0,209.2 L296.4,209.2 L296.9,209.2 L297.3,209.2 L297.7,209.3 L298.2,209.3 L298.6,209.3 L299.1,209.3 L299.5,209.4 L299.9,209.4 L300.4,209.4 L300.8,209.5 L301.3,209.5 L301.7,209.5 L302.1,209.5 L302.6,209.6 L303.0,209.6 L303.5,209.6 L303.9,209.6 L304.3,209.7 L304.8,209.7 L305.2,209.7 L305.7,209.7 L306.1,209.8 L306.5,209.8 L307.0,209.8 L307.4,209.8 L307.9,209.9 L308.3,209.9 L308.7,209.9 L309.2,209.9 L309.6,210.0 L310.1,210.0 L310.5,210.0 L310.9,210.0 L311.4,210.1 L311.8,210.1 L312.3,210.1 L312.7,210.1 L313.1,210.2 L313.6,210.2 L314.0,210.2 L314.5,210.2 L314.9,210.3 L315.3,210.3 L315.8,210.3 L316.2,210.3 L316.7,210.4 L317.1,210.4 L317.5,210.4 L318.0,210.4 L318.4,210.5 L318.9,210.5 L319.3,210.5 L319.7,210.5 L320.2,210.5 L320.6,210.6 L321.1,210.6 L321.5,210.6" fill="none" stroke="#0a149c" stroke-width="6.1" stroke-linecap="round" stroke-linejoin="round"/>
<path d="M58.0,195.0 L58.4,195.3 L58.9,195.6 L59.3,195.8 L59.8,195.9 L60.2,196.0 L60.6,196.1 L61.1,196.2 L61.5,196.3 L62.0,196.4 L62.4,196.5 L62.8,196.5 L63.3,196.6 L63.7,196.7 L64.2,196.8 L64.6,196.8 L65.0,196.9 L65.5,197.0 L65.9,197.0 L66.4,197.1 L66.8,197.2 L67.2,197.3 L67.7,197.3 L68.1,197.4 L68.6,197.5 L69.0,197.5 L69.4,197.6 L69.9,197.7 L70.3,197.7 L70.8,197.8 L71.2,197.9 L71.6,197.9 L72.1,198.0 L72.5,198.1 L73.0,198.1 L73.4,198.2 L73.8,198.3 L74.3,198.3 L74.7,198.4 L75.2,198.5 L75.6,198.5 L76.0,198.6 L76.5,198.7 L76.9,198.7 L77.4,198.8 L77.8,198.8 L78.2,198.9 L78.7,199.0 L79.1,199.0 L79.6,199.1 L80.0,199.2 L80.4,199.2 L80.9,199.3 L81.3,199.3 L81.8,199.4 L82.2,199.5 L82.6,199.5 L83.1,199.6 L83.5,199.7 L84.0,199.7 L84.4,199.8 L84.8,199.8 L85.3,199.9 L85.7,199.9 L86.2,200.0 L86.6,200.1 L87.0,200.1 L87.5,200.2 L87.9,200.2 L88.4,200.3 L88.8,200.4 L89.2,200.4 L89.7,200.5 L90.1,200.5 L90.6,200.6 L91.0,200.6 L91.4,200.7 L91.9,200.8 L92.3,200.8 L92.8,200.9 L93.2,200.9 L93.6,201.0 L94.1,201.0 L94.5,201.1 L95.0,201.1 L95.4,201.2 L95.8,201.2 L96.3,201.3 L96.7,201.4 L97.2,201.4 L97.6,201.5 L98.0,201.5 L98.5,201.6 L98.9,201.6 L99.4,201.7 L99.8,201.7 L100.2,201.8 L100.7,201.8 L101.1,201.9 L101.6,201.9 L102.0,202.0 L102.4,202.0 L102.9,202.1 L103.3,202.1 L103.7,202.2 L104.2,202.2 L104.6,202.3 L105.1,202.3 L105.5,202.4 L105.9,202.4 L106.4,202.5 L106.8,202.5 L107.3,202.6 L107.7,202.6 L108.1,202.7 L108.6,202.7 L109.0,202.8 L109.5,202.8 L109.9,202.9 L110.3,202.9 L110.8,203.0 L111.2,203.0 L111.7,203.1 L112.1,203.1 L112.5,203.2 L113.0,203.2 L113.4,203.3 L113.9,203.3 L114.3,203.3 L114.7,203.4 L115.2,203.4 L115.6,203.5 L116.1,203.5 L116.5,203.6 L116.9,203.6 L117.4,203.7 L117.8,203.7 L118.3,203.8 L118.7,203.8 L119.1,203.8 L119.6,203.9 L120.0,203.9 L120.5,204.0 L120.9,204.0 L121.3,204.1 L121.8,204.1 L122.2,204.1 L122.7,204.2 L123.1,204.2 L123.5,204.3 L124.0,204.3 L124.4,204.4 L124.9,204.4 L125.3,204.4 L125.7,204.5 L126.2,204.5 L126.6,204.6 L127.1,204.6 L127.5,204.7 L127.9,204.7 L128.4,204.7 L128.8,204.8 L129.3,204.8 L129.7,204.9 L130.1,204.9 L130.6,204.9 L131.0,205.0 L131.5,205.0 L131.9,205.1 L132.3,205.1 L132.8,205.1 L133.2,205.2 L133.7,205.2 L134.1,205.2 L134.5,205.3 L135.0,205.3 L135.4,205.4 L135.9,205.4 L136.3,205.4 L136.7,205.5 L137.2,205.5 L137.6,205.6 L138.1,205.6 L138.5,205.6 L138.9,205.7 L139.4,205.7 L139.8,205.7 L140.3,205.8 L140.7,205.8 L141.1,205.8 L141.6,205.9 L142.0,205.9 L142.5,206.0 L142.9,206.0 L143.3,206.0 L143.8,206.1 L144.2,206.1 L144.7,206.1 L145.1,206.2 L145.5,206.2 L146.0,206.2 L146.4,206.3 L146.9,206.3 L147.3,206.3 L147.7,206.4 L148.2,206.4 L148.6,206.4 L149.1,206.5 L149.5,206.5 L149.9,206.6 L150.4,206.6 L150.8,206.6 L151.3,206.7 L151.7,206.7 L152.1,206.7 L152.6,206.8 L153.0,206.8 L153.5,206.8 L153.9,206.8 L154.3,206.9 L154.8,206.9 L155.2,206.9 L155.7,207.0 L156.1,207.0 L156.5,207.0 L157.0,207.1 L157.4,207.1 L157.9,207.1 L158.3,207.2 L158.7,207.2 L159.2,207.2 L159.6,207.3 L160.1,207.3 L160.5,207.3 L160.9,207.4 L161.4,207.4 L161.8,207.4 L162.3,207.4 L162.7,207.5 L163.1,207.5 L163.6,207.5 L164.0,207.6 L164.5,207.6 L164.9,207.6 L165.3,207.7 L165.8,207.7 L166.2,207.7 L166.7,207.7 L167.1,207.8 L167.5,207.8 L168.0,207.8 L168.4,207.9 L168.9,207.9 L169.3,207.9 L169.7,207.9 L170.2,208.0 L170.6,208.0 L171.1,208.0 L171.5,208.1 L171.9,208.1 L172.4,208.1 L172.8,208.1 L173.3,208.2 L173.7,208.2 L174.1,208.2 L174.6,208.2 L175.0,208.3 L175.5,208.3 L175.9,208.3 L176.3,208.4 L176.8,208.4 L177.2,208.4 L177.7,208.4 L178.1,208.5 L178.5,208.5 L179.0,208.5 L179.4,208.5 L179.9,208.6 L180.3,208.6 L180.7,208.6 L181.2,208.6 L181.6,208.7 L182.1,208.7 L182.5,208.7 L182.9,208.7 L183.4,208.8 L183.8,208.8 L184.3,208.8 L184.7,208.8 L185.1,208.9 L185.6,208.9 L186.0,208.9 L186.5,208.9 L186.9,209.0 L187.3,209.0 L187.8,209.0 L188.2,209.0 L188.7,209.1 L189.1,209.1 L189.5,209.1 L190.0,209.1 L190.4,209.2 L190.8,209.2 L191.3,209.2 L191.7,209.2 L192.2,209.3 L192.6,209.3 L193.0,209.3 L193.5,209.3 L193.9,209.4 L194.4,209.4 L194.8,209.4 L195.2,209.4 L195.7,209.4 L196.1,209.5 L196.6,209.5 L197.0,209.5 L197.4,209.5 L197.9,209.6 L198.3,209.6 L198.8,209.6 L199.2,209.6 L199.6,209.6 L200.1,209.7 L200.5,209.7 L201.0,209.7 L201.4,209.7 L201.8,209.8 L202.3,209.8 L202.7,209.8 L203.2,209.8 L203.6,209.8 L204.0,209.9 L204.5,209.9 L204.9,209.9 L205.4,209.9 L205.8,209.9 L206.2,210.0 L206.7,210.0 L207.1,210.0 L207.6,210.0 L208.0,210.0 L208.4,210.1 L208.9,210.1 L209.3,210.1 L209.8,210.1 L210.2,210.1 L210.6,210.2 L211.1,210.2 L211.5,210.2 L212.0,210.2 L212.4,210.2 L212.8,210.3 L213.3,210.3 L213.7,210.3 L214.2,210.3 L214.6,210.3 L215.0,210.4 L215.5,210.4 L215.9,210.4 L216.4,210.4 L216.8,210.4 L217.2,210.5 L217.7,210.5 L218.1,210.5 L218.6,210.5 L219.0,210.5 L219.4,210.5 L219.9,210.6 L220.3,210.6 L220.8,210.6 L221.2,210.6 L221.6,210.6 L222.1,210.7 L222.5,210.7 L223.0,210.7 L223.4,210.7 L223.8,210.7 L224.3,210.7 L224.7,210.8 L225.2,210.8 L225.6,210.8 L226.0,210.8 L226.5,210.8 L226.9,210.8 L227.4,210.9 L227.8,210.9 L228.2,210.9 L228.7,210.9 L229.1,210.9 L229.6,211.0 L230.0,211.0 L230.4,211.0 L230.9,211.0 L231.3,211.0 L231.8,211.0 L232.2,211.1 L232.6,211.1 L233.1,211.1 L233.5,211.1 L234.0,211.1 L234.4,211.1 L234.8,211.1 L235.3,211.2 L235.7,211.2 L236.2,211.2 L236.6,211.2 L237.0,211.2 L237.5,211.2 L237.9,211.3 L238.4,211.3 L238.8,211.3 L239.2,211.3 L239.7,211.3 L240.1,211.3 L240.6,211.4 L241.0,211.4 L241.4,211.4 L241.9,211.4 L242.3,211.4 L242.8,211.4 L243.2,211.4 L243.6,211.5 L244.1,211.5 L244.5,211.5 L245.0,211.5 L245.4,211.5 L245.8,211.5 L246.3,211.5 L246.7,211.6 L247.2,211.6 L247.6,211.6 L248.0,211.6 L248.5,211.6 L248.9,211.6 L249.4,211.6 L249.8,211.7 L250.2,211.7 L250.7,211.7 L251.1,211.7 L251.6,211.7 L252.0,211.7 L252.4,211.7 L252.9,211.8 L253.3,211.8 L253.8,211.8 L254.2,211.8 L254.6,211.8 L255.1,211.8 L255.5,211.8 L256.0,211.9 L256.4,211.9 L256.8,211.9 L257.3,211.9 L257.7,211.9 L258.2,211.9 L258.6,211.9 L259.0,211.9 L259.5,212.0 L259.9,212.0 L260.4,212.0 L260.8,212.0 L261.2,212.0 L261.7,212.0 L262.1,212.0 L262.6,212.0 L263.0,212.1 L263.4,212.1 L263.9,212.1 L264.3,212.1 L264.8,212.1 L265.2,212.1 L265.6,212.1 L266.1,212.1 L266.5,212.2 L267.0,212.2 L267.4,212.2 L267.8,212.2 L268.3,212.2 L268.7,212.2 L269.2,212.2 L269.6,212.2 L270.0,212.3 L270.5,212.3 L270.9,212.3 L271.4,212.3 L271.8,212.3 L272.2,212.3 L272.7,212.3 L273.1,212.3 L273.6,212.4 L274.0,212.4 L274.4,212.4 L274.9,212.4 L275.3,212.4 L275.8,212.4 L276.2,212.4 L276.6,212.4 L277.1,212.4 L277.5,212.5 L277.9,212.5 L278.4,212.5 L278.8,212.5 L279.3,212.5 L279.7,212.5 L280.1,212.5 L280.6,212.5 L281.0,212.5 L281.5,212.6 L281.9,212.6 L282.3,212.6 L282.8,212.6 L283.2,212.6 L283.7,212.6 L284.1,212.6 L284.5,212.6 L285.0,212.6 L285.4,212.6 L285.9,212.7 L286.3,212.7 L286.7,212.7 L287.2,212.7 L287.6,212.7 L288.1,212.7 L288.5,212.7 L288.9,212.7 L289.4,212.7 L289.8,212.7 L290.3,212.8 L290.7,212.8 L291.1,212.8 L291.6,212.8 L292.0,212.8 L292.5,212.8 L292.9,212.8 L293.3,212.8 L293.8,212.8 L294.2,212.8 L294.7,212.9 L295.1,212.9 L295.5,212.9 L296.0,212.9 L296.4,212.9 L296.9,212.9 L297.3,212.9 L297.7,212.9 L298.2,212.9 L298.6,212.9 L299.1,212.9 L299.5,213.0 L299.9,213.0 L300.4,213.0 L300.8,213.0 L301.3,213.0 L301.7,213.0 L302.1,213.0 L302.6,213.0 L303.0,213.0 L303.5,213.0 L303.9,213.0 L304.3,213.1 L304.8,213.1 L305.2,213.1 L305.7,213.1 L306.1,213.1 L306.5,213.1 L307.0,213.1 L307.4,213.1 L307.9,213.1 L308.3,213.1 L308.7,213.1 L309.2,213.1 L309.6,213.2 L310.1,213.2 L310.5,213.2 L310.9,213.2 L311.4,213.2 L311.8,213.2 L312.3,213.2 L312.7,213.2 L313.1,213.2 L313.6,213.2 L314.0,213.2 L314.5,213.2 L314.9,213.3 L315.3,213.3 L315.8,213.3 L316.2,213.3 L316.7,213.3 L317.1,213.3 L317.5,213.3 L318.0,213.3 L318.4,213.3 L318.9,213.3 L319.3,213.3 L319.7,213.3 L320.2,213.4 L320.6,213.4 L321.1,213.4 L321.5,213.4" fill="none" stroke="#0b137c" stroke-width="6.1" stroke-linecap="round" stroke-linejoin="round"/>
<path d="M58.0,206.6 L58.4,206.6 L58.9,206.7 L59.3,206.8 L59.8,206.9 L60.2,206.9 L60.6,207.0 L61.1,207.1 L61.5,207.2 L62.0,207.2 L62.4,207.3 L62.8,207.4 L63.3,207.5 L63.7,207.5 L64.2,207.6 L64.6,207.7 L65.0,207.7 L65.5,207.8 L65.9,207.9 L66.4,207.9 L66.8,208.0 L67.2,208.0 L67.7,208.1 L68.1,208.2 L68.6,208.2 L69.0,208.3 L69.4,208.4 L69.9,208.4 L70.3,208.5 L70.8,208.5 L71.2,208.6 L71.6,208.6 L72.1,208.7 L72.5,208.8 L73.0,208.8 L73.4,208.9 L73.8,208.9 L74.3,209.0 L74.7,209.0 L75.2,209.1 L75.6,209.1 L76.0,209.2 L76.5,209.2 L76.9,209.3 L77.4,209.3 L77.8,209.4 L78.2,209.4 L78.7,209.5 L79.1,209.5 L79.6,209.6 L80.0,209.6 L80.4,209.7 L80.9,209.7 L81.3,209.7 L81.8,209.8 L82.2,209.8 L82.6,209.9 L83.1,209.9 L83.5,210.0 L84.0,210.0 L84.4,210.0 L84.8,210.1 L85.3,210.1 L85.7,210.2 L86.2,210.2 L86.6,210.2 L87.0,210.3 L87.5,210.3 L87.9,210.4 L88.4,210.4 L88.8,210.4 L89.2,210.5 L89.7,210.5 L90.1,210.5 L90.6,210.6 L91.0,210.6 L91.4,210.7 L91.9,210.7 L92.3,210.7 L92.8,210.8 L93.2,210.8 L93.6,210.8 L94.1,210.9 L94.5,210.9 L95.0,210.9 L95.4,211.0 L95.8,211.0 L96.3,211.0 L96.7,211.0 L97.2,211.1 L97.6,211.1 L98.0,211.1 L98.5,211.2 L98.9,211.2 L99.4,211.2 L99.8,211.3 L100.2,211.3 L100.7,211.3 L101.1,211.3 L101.6,211.4 L102.0,211.4 L102.4,211.4 L102.9,211.5 L103.3,211.5 L103.7,211.5 L104.2,211.5 L104.6,211.6 L105.1,211.6 L105.5,211.6 L105.9,211.6 L106.4,211.7 L106.8,211.7 L107.3,211.7 L107.7,211.7 L108.1,211.8 L108.6,211.8 L109.0,211.8 L109.5,211.8 L109.9,211.9 L110.3,211.9 L110.8,211.9 L111.2,211.9 L111.7,211.9 L112.1,212.0 L112.5,212.0 L113.0,212.0 L113.4,212.0 L113.9,212.1 L114.3,212.1 L114.7,212.1 L115.2,212.1 L115.6,212.1 L116.1,212.2 L116.5,212.2 L116.9,212.2 L117.4,212.2 L117.8,212.2 L118.3,212.3 L118.7,212.3 L119.1,212.3 L119.6,212.3 L120.0,212.3 L120.5,212.4 L120.9,212.4 L121.3,212.4 L121.8,212.4 L122.2,212.4 L122.7,212.4 L123.1,212.5 L123.5,212.5 L124.0,212.5 L124.4,212.5 L124.9,212.5 L125.3,212.6 L125.7,212.6 L126.2,212.6 L126.6,212.6 L127.1,212.6 L127.5,212.6 L127.9,212.7 L128.4,212.7 L128.8,212.7 L129.3,212.7 L129.7,212.7 L130.1,212.7 L130.6,212.7 L131.0,212.8 L131.5,212.8 L131.9,212.8 L132.3,212.8 L132.8,212.8 L133.2,212.8 L133.7,212.9 L134.1,212.9 L134.5,212.9 L135.0,212.9 L135.4,212.9 L135.9,212.9 L136.3,212.9 L136.7,213.0 L137.2,213.0 L137.6,213.0 L138.1,213.0 L138.5,213.0 L138.9,213.0 L139.4,213.0 L139.8,213.0 L140.3,213.1 L140.7,213.1 L141.1,213.1 L141.6,213.1 L142.0,213.1 L142.5,213.1 L142.9,213.1 L143.3,213.2 L143.8,213.2 L144.2,213.2 L144.7,213.2 L145.1,213.2 L145.5,213.2 L146.0,213.2 L146.4,213.2 L146.9,213.2 L147.3,213.3 L147.7,213.3 L148.2,213.3 L148.6,213.3 L149.1,213.3 L149.5,213.3 L149.9,213.3 L150.4,213.3 L150.8,213.4 L151.3,213.4 L151.7,213.4 L152.1,213.4 L152.6,213.4 L153.0,213.4 L153.5,213.4 L153.9,213.4 L154.3,213.4 L154.8,213.4 L155.2,213.5 L155.7,213.5 L156.1,213.5 L156.5,213.5 L157.0,213.5 L157.4,213.5 L157.9,213.5 L158.3,213.5 L158.7,213.5 L159.2,213.6 L159.6,213.6 L160.1,213.6 L160.5,213.6 L160.9,213.6 L161.4,213.6 L161.8,213.6 L162.3,213.6 L162.7,213.6 L163.1,213.6 L163.6,213.6 L164.0,213.7 L164.5,213.7 L164.9,213.7 L165.3,213.7 L165.8,213.7 L166.2,213.7 L166.7,213.7 L167.1,213.7 L167.5,213.7 L168.0,213.7 L168.4,213.7 L168.9,213.8 L169.3,213.8 L169.7,213.8 L170.2,213.8 L170.6,213.8 L171.1,213.8 L171.5,213.8 L171.9,213.8 L172.4,213.8 L172.8,213.8 L173.3,213.8 L173.7,213.9 L174.1,213.9 L174.6,213.9 L175.0,213.9 L175.5,213.9 L175.9,213.9 L176.3,213.9 L176.8,213.9 L177.2,213.9 L177.7,213.9 L178.1,213.9 L178.5,213.9 L179.0,213.9 L179.4,214.0 L179.9,214.0 L180.3,214.0 L180.7,214.0 L181.2,214.0 L181.6,214.0 L182.1,214.0 L182.5,214.0 L182.9,214.0 L183.4,214.0 L183.8,214.0 L184.3,214.0 L184.7,214.0 L185.1,214.1 L185.6,214.1 L186.0,214.1 L186.5,214.1 L186.9,214.1 L187.3,214.1 L187.8,214.1 L188.2,214.1 L188.7,214.1 L189.1,214.1 L189.5,214.1 L190.0,214.1 L190.4,214.1 L190.8,214.2 L191.3,214.2 L191.7,214.2 L192.2,214.2 L192.6,214.2 L193.0,214.2 L193.5,214.2 L193.9,214.2 L194.4,214.2 L194.8,214.2 L195.2,214.2 L195.7,214.2 L196.1,214.2 L196.6,214.2 L197.0,214.2 L197.4,214.3 L197.9,214.3 L198.3,214.3 L198.8,214.3 L199.2,214.3 L199.6,214.3 L200.1,214.3 L200.5,214.3 L201.0,214.3 L201.4,214.3 L201.8,214.3 L202.3,214.3 L202.7,214.3 L203.2,214.3 L203.6,214.4 L204.0,214.4 L204.5,214.4 L204.9,214.4 L205.4,214.4 L205.8,214.4 L206.2,214.4 L206.7,214.4 L207.1,214.4 L207.6,214.4 L208.0,214.4 L208.4,214.4 L208.9,214.4 L209.3,214.4 L209.8,214.4 L210.2,214.4 L210.6,214.5 L211.1,214.5 L211.5,214.5 L212.0,214.5 L212.4,214.5 L212.8,214.5 L213.3,214.5 L213.7,214.5 L214.2,214.5 L214.6,214.5 L215.0,214.5 L215.5,214.5 L215.9,214.5 L216.4,214.5 L216.8,214.5 L217.2,214.5 L217.7,214.6 L218.1,214.6 L218.6,214.6 L219.0,214.6 L219.4,214.6 L219.9,214.6 L220.3,214.6 L220.8,214.6 L221.2,214.6 L221.6,214.6 L222.1,214.6 L222.5,214.6 L223.0,214.6 L223.4,214.6 L223.8,214.6 L224.3,214.6 L224.7,214.6 L225.2,214.7 L225.6,214.7 L226.0,214.7 L226.5,214.7 L226.9,214.7 L227.4,214.7 L227.8,214.7 L228.2,214.7 L228.7,214.7 L229.1,214.7 L229.6,214.7 L230.0,214.7 L230.4,214.7 L230.9,214.7 L231.3,214.7 L231.8,214.7 L232.2,214.7 L232.6,214.8 L233.1,214.8 L233.5,214.8 L234.0,214.8 L234.4,214.8 L234.8,214.8 L235.3,214.8 L235.7,214.8 L236.2,214.8 L236.6,214.8 L237.0,214.8 L237.5,214.8 L237.9,214.8 L238.4,214.8 L238.8,214.8 L239.2,214.8 L239.7,214.8 L240.1,214.8 L240.6,214.9 L241.0,214.9 L241.4,214.9 L241.9,214.9 L242.3,214.9 L242.8,214.9 L243.2,214.9 L243.6,214.9 L244.1,214.9 L244.5,214.9 L245.0,214.9 L245.4,214.9 L245.8,214.9 L246.3,214.9 L246.7,214.9 L247.2,214.9 L247.6,214.9 L248.0,214.9 L248.5,215.0 L248.9,215.0 L249.4,215.0 L249.8,215.0 L250.2,215.0 L250.7,215.0 L251.1,215.0 L251.6,215.0 L252.0,215.0 L252.4,215.0 L252.9,215.0 L253.3,215.0 L253.8,215.0 L254.2,215.0 L254.6,215.0 L255.1,215.0 L255.5,215.0 L256.0,215.0 L256.4,215.0 L256.8,215.1 L257.3,215.1 L257.7,215.1 L258.2,215.1 L258.6,215.1 L259.0,215.1 L259.5,215.1 L259.9,215.1 L260.4,215.1 L260.8,215.1 L261.2,215.1 L261.7,215.1 L262.1,215.1 L262.6,215.1 L263.0,215.1 L263.4,215.1 L263.9,215.1 L264.3,215.1 L264.8,215.2 L265.2,215.2 L265.6,215.2 L266.1,215.2 L266.5,215.2 L267.0,215.2 L267.4,215.2 L267.8,215.2 L268.3,215.2 L268.7,215.2 L269.2,215.2 L269.6,215.2 L270.0,215.2 L270.5,215.2 L270.9,215.2 L271.4,215.2 L271.8,215.2 L272.2,215.2 L272.7,215.2 L273.1,215.3 L273.6,215.3 L274.0,215.3 L274.4,215.3 L274.9,215.3 L275.3,215.3 L275.8,215.3 L276.2,215.3 L276.6,215.3 L277.1,215.3 L277.5,215.3 L277.9,215.3 L278.4,215.3 L278.8,215.3 L279.3,215.3 L279.7,215.3 L280.1,215.3 L280.6,215.3 L281.0,215.3 L281.5,215.3 L281.9,215.4 L282.3,215.4 L282.8,215.4 L283.2,215.4 L283.7,215.4 L284.1,215.4 L284.5,215.4 L285.0,215.4 L285.4,215.4 L285.9,215.4 L286.3,215.4 L286.7,215.4 L287.2,215.4 L287.6,215.4 L288.1,215.4 L288.5,215.4 L288.9,215.4 L289.4,215.4 L289.8,215.4 L290.3,215.5 L290.7,215.5 L291.1,215.5 L291.6,215.5 L292.0,215.5 L292.5,215.5 L292.9,215.5 L293.3,215.5 L293.8,215.5 L294.2,215.5 L294.7,215.5 L295.1,215.5 L295.5,215.5 L296.0,215.5 L296.4,215.5 L296.9,215.5 L297.3,215.5 L297.7,215.5 L298.2,215.5 L298.6,215.5 L299.1,215.6 L299.5,215.6 L299.9,215.6 L300.4,215.6 L300.8,215.6 L301.3,215.6 L301.7,215.6 L302.1,215.6 L302.6,215.6 L303.0,215.6 L303.5,215.6 L303.9,215.6 L304.3,215.6 L304.8,215.6 L305.2,215.6 L305.7,215.6 L306.1,215.6 L306.5,215.6 L307.0,215.6 L307.4,215.6 L307.9,215.7 L308.3,215.7 L308.7,215.7 L309.2,215.7 L309.6,215.7 L310.1,215.7 L310.5,215.7 L310.9,215.7 L311.4,215.7 L311.8,215.7 L312.3,215.7 L312.7,215.7 L313.1,215.7 L313.6,215.7 L314.0,215.7 L314.5,215.7 L314.9,215.7 L315.3,215.7 L315.8,215.7 L316.2,215.7 L316.7,215.8 L317.1,215.8 L317.5,215.8 L318.0,215.8 L318.4,215.8 L318.9,215.8 L319.3,215.8 L319.7,215.8 L320.2,215.8 L320.6,215.8 L321.1,215.8 L321.5,215.8" fill="none" stroke="#0a0a56" stroke-width="6.1" stroke-linecap="round" stroke-linejoin="round"/>
<line x1="53.85" y1="95.5" x2="53.85" y2="216" stroke="#f2f200" stroke-width="6.3" stroke-linecap="round"/>
<line x1="53.85" y1="120.5" x2="53.85" y2="216" stroke="#dede0a" stroke-width="6.3" stroke-linecap="round"/>
<line x1="53.85" y1="144.5" x2="53.85" y2="216" stroke="#b8b814" stroke-width="6.3" stroke-linecap="round"/>
<line x1="53.85" y1="170.0" x2="53.85" y2="216" stroke="#7c7a14" stroke-width="6.3" stroke-linecap="round"/>
<line x1="53.85" y1="183.0" x2="53.85" y2="216" stroke="#4e4e12" stroke-width="6.3" stroke-linecap="round"/>
<line x1="53.85" y1="196.0" x2="53.85" y2="216" stroke="#3c3a0e" stroke-width="6.3" stroke-linecap="round"/>
<ellipse cx="53.9" cy="216.6" rx="3.1" ry="3.2" fill="#10166e"/>
<rect x="49.5" y="12.7" width="276.0" height="210.6" fill="none" stroke="#1a1718" stroke-width="1.4"/>
<line x1="44.5" y1="218.8" x2="49.6" y2="218.8" stroke="#231f20" stroke-width="1.2"/>
<text x="40.9" y="222.8" font-size="11.6" text-anchor="end" fill="#231f20" >0</text>
<line x1="44.5" y1="189.9" x2="49.6" y2="189.9" stroke="#231f20" stroke-width="1.2"/>
<text x="40.9" y="193.9" font-size="11.6" text-anchor="end" fill="#231f20" textLength="13.0" lengthAdjust="spacingAndGlyphs" >10</text>
<line x1="44.5" y1="161.1" x2="49.6" y2="161.1" stroke="#231f20" stroke-width="1.2"/>
<text x="40.9" y="165.1" font-size="11.6" text-anchor="end" fill="#231f20" textLength="13.0" lengthAdjust="spacingAndGlyphs" >20</text>
<line x1="44.5" y1="132.2" x2="49.6" y2="132.2" stroke="#231f20" stroke-width="1.2"/>
<text x="40.9" y="136.2" font-size="11.6" text-anchor="end" fill="#231f20" textLength="13.0" lengthAdjust="spacingAndGlyphs" >30</text>
<line x1="44.5" y1="103.3" x2="49.6" y2="103.3" stroke="#231f20" stroke-width="1.2"/>
<text x="40.9" y="107.3" font-size="11.6" text-anchor="end" fill="#231f20" textLength="13.0" lengthAdjust="spacingAndGlyphs" >40</text>
<line x1="44.5" y1="74.5" x2="49.6" y2="74.5" stroke="#231f20" stroke-width="1.2"/>
<text x="40.9" y="78.5" font-size="11.6" text-anchor="end" fill="#231f20" textLength="13.0" lengthAdjust="spacingAndGlyphs" >50</text>
<line x1="44.5" y1="45.6" x2="49.6" y2="45.6" stroke="#231f20" stroke-width="1.2"/>
<text x="40.9" y="49.6" font-size="11.6" text-anchor="end" fill="#231f20" textLength="13.0" lengthAdjust="spacingAndGlyphs" >60</text>
<line x1="44.5" y1="16.7" x2="49.6" y2="16.7" stroke="#231f20" stroke-width="1.2"/>
<text x="40.9" y="20.7" font-size="11.6" text-anchor="end" fill="#231f20" textLength="13.0" lengthAdjust="spacingAndGlyphs" >70</text>
<line x1="54.0" y1="223.3" x2="54.0" y2="229.4" stroke="#231f20" stroke-width="1.2"/>
<text x="54.0" y="243.3" font-size="11.2" text-anchor="middle" fill="#231f20" textLength="17.5" lengthAdjust="spacingAndGlyphs" >0.0</text>
<line x1="98.6" y1="223.3" x2="98.6" y2="229.4" stroke="#231f20" stroke-width="1.2"/>
<text x="98.6" y="243.3" font-size="11.2" text-anchor="middle" fill="#231f20" textLength="17.5" lengthAdjust="spacingAndGlyphs" >0.5</text>
<line x1="143.2" y1="223.3" x2="143.2" y2="229.4" stroke="#231f20" stroke-width="1.2"/>
<text x="143.2" y="243.3" font-size="11.2" text-anchor="middle" fill="#231f20" textLength="17.5" lengthAdjust="spacingAndGlyphs" >1.0</text>
<line x1="187.8" y1="223.3" x2="187.8" y2="229.4" stroke="#231f20" stroke-width="1.2"/>
<text x="187.8" y="243.3" font-size="11.2" text-anchor="middle" fill="#231f20" textLength="17.5" lengthAdjust="spacingAndGlyphs" >1.5</text>
<line x1="232.4" y1="223.3" x2="232.4" y2="229.4" stroke="#231f20" stroke-width="1.2"/>
<text x="232.4" y="243.3" font-size="11.2" text-anchor="middle" fill="#231f20" textLength="17.5" lengthAdjust="spacingAndGlyphs" >2.0</text>
<line x1="277.0" y1="223.3" x2="277.0" y2="229.4" stroke="#231f20" stroke-width="1.2"/>
<text x="277.0" y="243.3" font-size="11.2" text-anchor="middle" fill="#231f20" textLength="17.5" lengthAdjust="spacingAndGlyphs" >2.5</text>
<line x1="321.6" y1="223.3" x2="321.6" y2="229.4" stroke="#231f20" stroke-width="1.2"/>
<text x="321.6" y="243.3" font-size="11.2" text-anchor="middle" fill="#231f20" textLength="17.5" lengthAdjust="spacingAndGlyphs" >3.0</text>
<text x="159.3" y="264.3" font-size="12" text-anchor="start" fill="#231f20" textLength="57.6" lengthAdjust="spacingAndGlyphs" >Time (ms)</text>
<text transform="translate(12.6,158.3) rotate(-90)" font-size="12" fill="#231f20" style="stroke-width:0.12px" textLength="76.4" lengthAdjust="spacingAndGlyphs">Current (µA)</text>
<rect x="149.5" y="18.2" width="82" height="122.6" fill="#fff" stroke="#231f20" stroke-width="1.2"/>
<rect x="238.1" y="18.2" width="82" height="122.6" fill="#fff" stroke="#231f20" stroke-width="1.2"/>
<text x="177.0" y="31.3" font-size="10.8" text-anchor="start" fill="#231f20" textLength="20.6" lengthAdjust="spacingAndGlyphs" font-weight="bold" class="n">Gold</text>
<text x="251.4" y="30.9" font-size="10.3" text-anchor="start" fill="#231f20" textLength="52.0" lengthAdjust="spacingAndGlyphs" font-weight="bold" class="n">PEDOT:PSS</text>
<circle cx="164.6" cy="44.8" r="3.4" fill="#eef200"/>
<circle cx="253.1" cy="44.8" r="3.4" fill="#1628f0"/>
<text x="180.4" y="48.5" font-size="11.2" text-anchor="start" fill="#231f20" textLength="43.8" lengthAdjust="spacingAndGlyphs" >3129 <tspan font-style="italic">µ</tspan>m</text>
<text x="224.8" y="41.1" font-size="7.6" text-anchor="start" fill="#231f20" >2</text>
<text x="269.0" y="48.5" font-size="11.2" text-anchor="start" fill="#231f20" textLength="43.8" lengthAdjust="spacingAndGlyphs" >1067 <tspan font-style="italic">µ</tspan>m</text>
<text x="313.4" y="41.1" font-size="7.6" text-anchor="start" fill="#231f20" >2</text>
<circle cx="164.6" cy="62.2" r="3.4" fill="#d2da10"/>
<circle cx="253.1" cy="62.2" r="3.4" fill="#1224d2"/>
<text x="180.4" y="65.9" font-size="11.2" text-anchor="start" fill="#231f20" textLength="43.8" lengthAdjust="spacingAndGlyphs" >2103 <tspan font-style="italic">µ</tspan>m</text>
<text x="224.8" y="58.5" font-size="7.6" text-anchor="start" fill="#231f20" >2</text>
<text x="269.0" y="65.9" font-size="11.2" text-anchor="start" fill="#231f20" textLength="37.2" lengthAdjust="spacingAndGlyphs" >819 <tspan font-style="italic">µ</tspan>m</text>
<text x="306.8" y="58.5" font-size="7.6" text-anchor="start" fill="#231f20" >2</text>
<circle cx="164.6" cy="79.6" r="3.4" fill="#aebc1e"/>
<circle cx="253.1" cy="79.6" r="3.4" fill="#0e1cb0"/>
<text x="180.4" y="83.3" font-size="11.2" text-anchor="start" fill="#231f20" textLength="43.8" lengthAdjust="spacingAndGlyphs" >1544 <tspan font-style="italic">µ</tspan>m</text>
<text x="224.8" y="75.9" font-size="7.6" text-anchor="start" fill="#231f20" >2</text>
<text x="269.0" y="83.3" font-size="11.2" text-anchor="start" fill="#231f20" textLength="37.2" lengthAdjust="spacingAndGlyphs" >727 <tspan font-style="italic">µ</tspan>m</text>
<text x="306.8" y="75.9" font-size="7.6" text-anchor="start" fill="#231f20" >2</text>
<circle cx="164.6" cy="97.0" r="3.4" fill="#8a961a"/>
<circle cx="253.1" cy="97.0" r="3.4" fill="#0e168e"/>
<text x="180.4" y="100.7" font-size="11.2" text-anchor="start" fill="#231f20" textLength="43.8" lengthAdjust="spacingAndGlyphs" >1209 <tspan font-style="italic">µ</tspan>m</text>
<text x="224.8" y="93.3" font-size="7.6" text-anchor="start" fill="#231f20" >2</text>
<text x="269.0" y="100.7" font-size="11.2" text-anchor="start" fill="#231f20" textLength="37.2" lengthAdjust="spacingAndGlyphs" >552 <tspan font-style="italic">µ</tspan>m</text>
<text x="306.8" y="93.3" font-size="7.6" text-anchor="start" fill="#231f20" >2</text>
<circle cx="164.6" cy="114.4" r="3.4" fill="#646a14"/>
<circle cx="253.1" cy="114.4" r="3.4" fill="#0e146c"/>
<text x="180.4" y="118.1" font-size="11.2" text-anchor="start" fill="#231f20" textLength="37.2" lengthAdjust="spacingAndGlyphs" >922 <tspan font-style="italic">µ</tspan>m</text>
<text x="218.2" y="110.7" font-size="7.6" text-anchor="start" fill="#231f20" >2</text>
<text x="269.0" y="118.1" font-size="11.2" text-anchor="start" fill="#231f20" textLength="37.2" lengthAdjust="spacingAndGlyphs" >212 <tspan font-style="italic">µ</tspan>m</text>
<text x="306.8" y="110.7" font-size="7.6" text-anchor="start" fill="#231f20" >2</text>
<circle cx="164.6" cy="131.8" r="3.4" fill="#3a3c12"/>
<circle cx="253.1" cy="131.8" r="3.4" fill="#0a0a48"/>
<text x="180.4" y="135.5" font-size="11.2" text-anchor="start" fill="#231f20" textLength="37.2" lengthAdjust="spacingAndGlyphs" >638 <tspan font-style="italic">µ</tspan>m</text>
<text x="218.2" y="128.1" font-size="7.6" text-anchor="start" fill="#231f20" >2</text>
<text x="269.0" y="135.5" font-size="11.2" text-anchor="start" fill="#231f20" textLength="30.8" lengthAdjust="spacingAndGlyphs" >76 <tspan font-style="italic">µ</tspan>m</text>
<text x="300.4" y="128.1" font-size="7.6" text-anchor="start" fill="#231f20" >2</text>
<text x="364.6" y="24" font-size="30" text-anchor="start" fill="#231f20" textLength="16.2" lengthAdjust="spacingAndGlyphs" style="stroke-width:0.15px">b</text>
<rect x="406.8" y="225.9" width="62.2" height="2.5" fill="#6a6a6a" stroke="#3a3a3a" stroke-width="0.8"/>
<rect x="476.3" y="180.2" width="61.6" height="48.2" fill="#c6c6c6" stroke="#555" stroke-width="1"/>
<rect x="545.4" y="161.5" width="61.9" height="66.9" fill="#c6c6c6" stroke="#555" stroke-width="1"/>
<rect x="613.9" y="110.5" width="62.5" height="117.9" fill="#c6c6c6" stroke="#555" stroke-width="1"/>
<line x1="507.1" y1="177.4" x2="507.1" y2="183.3" stroke="#231f20" stroke-width="1.2"/>
<line x1="501.1" y1="177.4" x2="513.1" y2="177.4" stroke="#231f20" stroke-width="1.3"/>
<line x1="501.1" y1="183.3" x2="513.1" y2="183.3" stroke="#231f20" stroke-width="1.3"/>
<line x1="576.3" y1="134.8" x2="576.3" y2="186.5" stroke="#231f20" stroke-width="1.2"/>
<line x1="570.3" y1="134.8" x2="582.3" y2="134.8" stroke="#231f20" stroke-width="1.3"/>
<line x1="570.3" y1="186.5" x2="582.3" y2="186.5" stroke="#231f20" stroke-width="1.3"/>
<line x1="645.1" y1="72.5" x2="645.1" y2="147.8" stroke="#231f20" stroke-width="1.2"/>
<line x1="639.1" y1="72.5" x2="651.1" y2="72.5" stroke="#231f20" stroke-width="1.3"/>
<line x1="639.1" y1="147.8" x2="651.1" y2="147.8" stroke="#231f20" stroke-width="1.3"/>
<line x1="432" y1="226.2" x2="445" y2="226.2" stroke="#231f20" stroke-width="1.2"/>
<line x1="402.3" y1="16.2" x2="402.3" y2="229.0" stroke="#231f20" stroke-width="1.3"/>
<line x1="401.7" y1="228.4" x2="680" y2="228.4" stroke="#231f20" stroke-width="1.5"/>
<line x1="396.8" y1="228.4" x2="402.3" y2="228.4" stroke="#231f20" stroke-width="1.2"/>
<text x="393.8" y="231.7" font-size="11.6" text-anchor="end" fill="#231f20" >0</text>
<line x1="396.8" y1="193.2" x2="402.3" y2="193.2" stroke="#231f20" stroke-width="1.2"/>
<text x="393.8" y="196.5" font-size="11.6" text-anchor="end" fill="#231f20" >1</text>
<line x1="396.8" y1="158.0" x2="402.3" y2="158.0" stroke="#231f20" stroke-width="1.2"/>
<text x="393.8" y="161.3" font-size="11.6" text-anchor="end" fill="#231f20" >2</text>
<line x1="396.8" y1="122.8" x2="402.3" y2="122.8" stroke="#231f20" stroke-width="1.2"/>
<text x="393.8" y="126.1" font-size="11.6" text-anchor="end" fill="#231f20" >3</text>
<line x1="396.8" y1="87.6" x2="402.3" y2="87.6" stroke="#231f20" stroke-width="1.2"/>
<text x="393.8" y="90.9" font-size="11.6" text-anchor="end" fill="#231f20" >4</text>
<line x1="396.8" y1="52.4" x2="402.3" y2="52.4" stroke="#231f20" stroke-width="1.2"/>
<text x="393.8" y="55.7" font-size="11.6" text-anchor="end" fill="#231f20" >5</text>
<line x1="396.8" y1="17.2" x2="402.3" y2="17.2" stroke="#231f20" stroke-width="1.2"/>
<text x="393.8" y="20.5" font-size="11.6" text-anchor="end" fill="#231f20" >6</text>
<line x1="403.0" y1="228.4" x2="403.0" y2="234.5" stroke="#231f20" stroke-width="1.2"/>
<line x1="472.0" y1="228.4" x2="472.0" y2="234.5" stroke="#231f20" stroke-width="1.2"/>
<line x1="541.3" y1="228.4" x2="541.3" y2="234.5" stroke="#231f20" stroke-width="1.2"/>
<line x1="610.5" y1="228.4" x2="610.5" y2="234.5" stroke="#231f20" stroke-width="1.2"/>
<line x1="679.5" y1="228.4" x2="679.5" y2="234.5" stroke="#231f20" stroke-width="1.2"/>
<text x="438" y="243.2" font-size="11" text-anchor="middle" fill="#231f20" textLength="22.5" lengthAdjust="spacingAndGlyphs" >Gold</text>
<text x="507.2" y="243.2" font-size="11" text-anchor="middle" fill="#231f20" textLength="45.5" lengthAdjust="spacingAndGlyphs" >0.78 <tspan font-style="italic">µ</tspan>m</text>
<text x="576.2" y="243.2" font-size="11" text-anchor="middle" fill="#231f20" textLength="45.5" lengthAdjust="spacingAndGlyphs" >1.75 <tspan font-style="italic">µ</tspan>m</text>
<text x="645.2" y="243.2" font-size="11" text-anchor="middle" fill="#231f20" textLength="45.5" lengthAdjust="spacingAndGlyphs" >3.10 <tspan font-style="italic">µ</tspan>m</text>
<text x="500.4" y="264.1" font-size="11.3" text-anchor="start" fill="#231f20" textLength="82.7" lengthAdjust="spacingAndGlyphs" >Wire Diameter</text>
<text transform="translate(372.6,199.3) rotate(-90)" font-size="10.6" fill="#231f20" textLength="142.4" lengthAdjust="spacingAndGlyphs">Charge per Area (mC cm</text>
<text transform="translate(363.7,55.8) rotate(-90)" font-size="8.2" fill="#231f20" textLength="8.2" lengthAdjust="spacingAndGlyphs">-2</text>
<text transform="translate(372.6,46.3) rotate(-90)" font-size="10.6" fill="#231f20" textLength="3.9" lengthAdjust="spacingAndGlyphs">)</text>
</svg></body></html>
